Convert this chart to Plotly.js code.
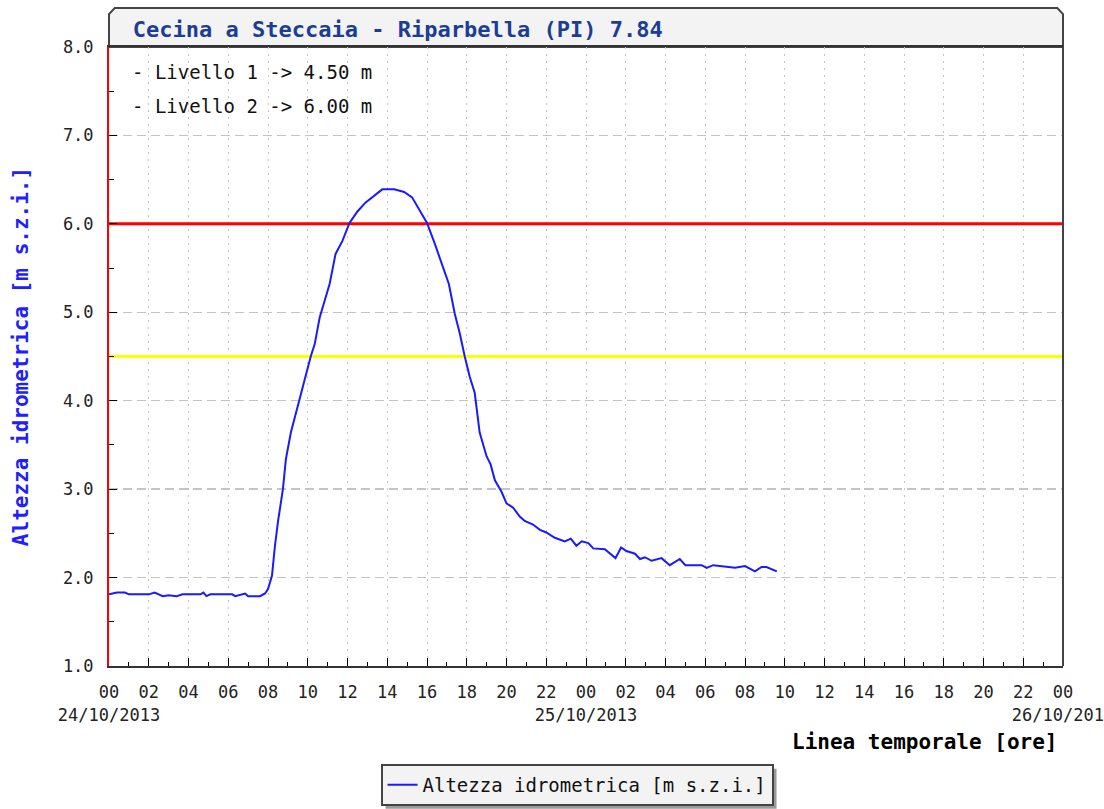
<!DOCTYPE html>
<html>
<head>
<meta charset="utf-8">
<script src="https://cdn.plot.ly/plotly-3.0.1.min.js"></script>
<style>
  html, body { margin: 0; padding: 0; background: #ffffff; }
  #chart { width: 1104px; height: 809px; }
</style>
</head>
<body>
<div id="chart"></div>
<script>
// ---- data ----
var chartTitle = "Cecina a Steccaia - Riparbella (PI) 7.84";
var seriesName = "Altezza idrometrica [m s.z.i.]";
var xTitle = "Linea temporale [ore]";

var times = [
  "2013-10-24 00:00","2013-10-24 00:24","2013-10-24 00:48","2013-10-24 01:00","2013-10-24 02:00",
  "2013-10-24 02:18","2013-10-24 02:42","2013-10-24 03:00","2013-10-24 03:24","2013-10-24 03:42",
  "2013-10-24 04:36","2013-10-24 04:45","2013-10-24 04:54","2013-10-24 05:06","2013-10-24 06:12",
  "2013-10-24 06:21","2013-10-24 06:51","2013-10-24 07:00","2013-10-24 07:36","2013-10-24 07:51",
  "2013-10-24 08:00","2013-10-24 08:12","2013-10-24 08:21","2013-10-24 08:30","2013-10-24 08:45",
  "2013-10-24 08:54","2013-10-24 09:09","2013-10-24 09:24","2013-10-24 09:39","2013-10-24 09:54",
  "2013-10-24 10:09","2013-10-24 10:21","2013-10-24 10:36","2013-10-24 10:51","2013-10-24 11:06",
  "2013-10-24 11:24","2013-10-24 11:45","2013-10-24 12:06","2013-10-24 12:30","2013-10-24 12:54",
  "2013-10-24 13:24","2013-10-24 13:45","2013-10-24 14:21","2013-10-24 14:51","2013-10-24 15:15",
  "2013-10-24 15:39","2013-10-24 16:00","2013-10-24 16:24","2013-10-24 16:45","2013-10-24 17:06",
  "2013-10-24 17:24","2013-10-24 17:39","2013-10-24 17:54","2013-10-24 18:09","2013-10-24 18:24",
  "2013-10-24 18:39","2013-10-24 19:00","2013-10-24 19:12","2013-10-24 19:25","2013-10-24 19:45",
  "2013-10-24 20:00","2013-10-24 20:20","2013-10-24 20:40","2013-10-24 20:55","2013-10-24 21:20",
  "2013-10-24 21:41","2013-10-24 22:00","2013-10-24 22:26","2013-10-24 22:56","2013-10-24 23:14",
  "2013-10-24 23:31","2013-10-24 23:47","2013-10-25 00:07","2013-10-25 00:22","2013-10-25 00:57",
  "2013-10-25 01:29","2013-10-25 01:46","2013-10-25 02:02","2013-10-25 02:28","2013-10-25 02:43",
  "2013-10-25 02:58","2013-10-25 03:18","2013-10-25 03:48","2013-10-25 04:13","2013-10-25 04:43",
  "2013-10-25 05:00","2013-10-25 05:49","2013-10-25 06:04","2013-10-25 06:24","2013-10-25 07:30",
  "2013-10-25 08:00","2013-10-25 08:30","2013-10-25 08:50","2013-10-25 09:05","2013-10-25 09:36"
];
var heights = [
  1.81,1.83,1.83,1.81,1.81,
  1.83,1.79,1.80,1.79,1.81,
  1.81,1.83,1.79,1.81,1.81,
  1.79,1.82,1.79,1.79,1.82,
  1.87,2.02,2.36,2.63,3.00,
  3.34,3.64,3.86,4.08,4.31,
  4.50,4.64,4.94,5.13,5.32,
  5.66,5.81,6.01,6.14,6.24,
  6.33,6.39,6.39,6.36,6.30,
  6.15,6.01,5.77,5.55,5.32,
  4.98,4.76,4.50,4.27,4.09,
  3.64,3.37,3.28,3.10,2.97,
  2.84,2.79,2.69,2.64,2.60,
  2.54,2.51,2.45,2.41,2.44,
  2.36,2.41,2.39,2.33,2.32,
  2.22,2.34,2.30,2.27,2.21,
  2.23,2.19,2.22,2.14,2.21,
  2.14,2.14,2.11,2.14,2.11,
  2.13,2.07,2.12,2.12,2.07
];

// alert levels
var levelNames = ["Livello 1", "Livello 2"];
var levelValues = [4.50, 6.00];
var levelColors = ["#ffff00", "#ff0000"];

// axis ranges and tick labels
var xRange = ["2013-10-24 00:00", "2013-10-26 00:00"];
var hourLabels = ["00","02","04","06","08","10","12","14","16","18","20","22",
                  "00","02","04","06","08","10","12","14","16","18","20","22","00"];
var dayLabels = {0: "24/10/2013", 12: "25/10/2013", 24: "26/10/2013"};
var yRange = [1, 8];

// ---- build ticks ----
var t0 = new Date(xRange[0].replace(" ", "T") + ":00Z").getTime();
function fmt(ms) {
  var d = new Date(ms);
  function p(n) { return (n < 10 ? "0" : "") + n; }
  return d.getUTCFullYear() + "-" + p(d.getUTCMonth() + 1) + "-" + p(d.getUTCDate()) +
         " " + p(d.getUTCHours()) + ":" + p(d.getUTCMinutes());
}
var tickvals = [], ticktext = [];
for (var i = 0; i < hourLabels.length; i++) {
  tickvals.push(fmt(t0 + i * 2 * 3600000));
  ticktext.push(hourLabels[i] + (dayLabels[i] ? "<br>" + dayLabels[i] : ""));
}

var mono = "DejaVu Sans Mono, Liberation Mono, monospace";

var shapes = [];
// title box (chamfered top corners)
shapes.push({
  type: "path", xref: "paper", yref: "paper",
  path: "M 0 1 L 0 1.053 L 0.006 1.063 L 0.994 1.063 L 1 1.053 L 1 1 Z",
  fillcolor: "#f3f3f3", line: { color: "#444444", width: 2 }, layer: "below"
});
// right border of the plot
shapes.push({
  type: "line", xref: "paper", yref: "paper", x0: 1, x1: 1, y0: 0, y1: 1,
  line: { color: "#444444", width: 2 }
});

var annotations = [];
var levelY = [0.9596, 0.9047];
for (var k2 = 0; k2 < levelNames.length; k2++) {
  annotations.push({
    xref: "paper", yref: "paper", x: 0.022, y: levelY[k2],
    xanchor: "left", yanchor: "middle", showarrow: false,
    text: "- " + levelNames[k2] + " -&gt; " + levelValues[k2].toFixed(2) + " m",
    font: { family: mono, size: 19, color: "#111111" }
  });
}
annotations.push({
  xref: "paper", yref: "paper", x: 0.997, y: -0.123,
  xanchor: "right", yanchor: "middle", showarrow: false,
  text: xTitle,
  font: { family: mono, size: 21, color: "#000000", weight: "bold" }
});

// traces: alert level lines first (under the series), then the series
var traces = [];
for (var k = 0; k < levelValues.length; k++) {
  traces.push({
    type: "scatter", mode: "lines", name: levelNames[k], showlegend: false,
    x: xRange, y: [levelValues[k], levelValues[k]],
    line: { color: levelColors[k], width: 3 }, hoverinfo: "skip"
  });
}
traces.push({
  type: "scatter", mode: "lines", name: seriesName,
  x: times, y: heights,
  line: { color: "#1a1aff", width: 2 }
});

var layout = {
  width: 1104, height: 809,
  margin: { l: 109, r: 41, t: 47, b: 143, autoexpand: false },
  paper_bgcolor: "#ffffff", plot_bgcolor: "#ffffff",
  font: { family: mono, color: "#222222" },
  title: {
    text: chartTitle, xref: "paper", x: 0.025, xanchor: "left",
    yref: "container", y: 0.964, yanchor: "middle",
    font: { family: mono, size: 22, color: "#1c3d96", weight: "bold" }
  },
  xaxis: {
    type: "date", range: xRange, automargin: false,
    tickmode: "array", tickvals: tickvals, ticktext: ticktext, tickangle: 0,
    ticklabeloverflow: "allow",
    ticks: "inside", ticklen: 8, tickwidth: 1, tickcolor: "#000000",
    tickfont: { family: mono, size: 17, color: "#222222" },
    ticklabelstandoff: 10,
    showgrid: true, gridcolor: "#c4c4c4", gridwidth: 1, griddash: "2px,5px",
    showline: true, linecolor: "#333333", linewidth: 2, mirror: true,
    zeroline: false, fixedrange: true,
    minor: { tickmode: "linear", tick0: xRange[0], dtick: 3600000,
             ticks: "inside", ticklen: 4, tickcolor: "#000000", showgrid: false }
  },
  yaxis: {
    range: yRange, dtick: 1, tick0: 1, tickformat: ".1f", automargin: false,
    ticks: "inside", ticklen: 8, tickwidth: 1, tickcolor: "#000000",
    tickfont: { family: mono, size: 17, color: "#222222" },
    ticklabelstandoff: 10,
    showgrid: true, gridcolor: "#c4c4c4", gridwidth: 1.5, griddash: "9px,5px",
    showline: true, linecolor: "#ff0000", linewidth: 2,
    zeroline: false, fixedrange: true,
    title: { text: seriesName, standoff: 29,
             font: { family: mono, size: 21, color: "#2020ff", weight: "bold" } },
    minor: { dtick: 0.5, ticks: "inside", ticklen: 5, tickcolor: "#000000", showgrid: false }
  },
  showlegend: true,
  legend: {
    x: 0.4906, xanchor: "center", y: -0.192, yanchor: "middle",
    orientation: "h", bgcolor: "#f3f3f3", bordercolor: "#444444", borderwidth: 2,
    font: { family: mono, size: 19, color: "#111111" }, itemwidth: 30
  },
  shapes: shapes,
  annotations: annotations
};

Plotly.newPlot("chart", traces, layout, { displayModeBar: false, staticPlot: true }).then(function (gd) {
  // drop shadow behind the legend box, placed from the rendered legend size
  var bg = gd.querySelector(".legend .bg");
  if (!bg) return;
  var r = bg.getBoundingClientRect();
  var root = gd.getBoundingClientRect();
  var fs = gd._fullLayout._size;
  function px2x(px) { return (px - root.left - fs.l) / fs.w; }
  function px2y(py) { return 1 - (py - root.top - fs.t) / fs.h; }
  var off = 4;
  var s = gd.layout.shapes.slice();
  s.push({
    type: "rect", xref: "paper", yref: "paper",
    x0: px2x(r.left + off), x1: px2x(r.right + off),
    y0: px2y(r.bottom + off), y1: px2y(r.top + off),
    fillcolor: "#9a9a9a", line: { width: 0 }, layer: "above"
  });
  return Plotly.relayout(gd, { shapes: s });
});
</script>
</body>
</html>
